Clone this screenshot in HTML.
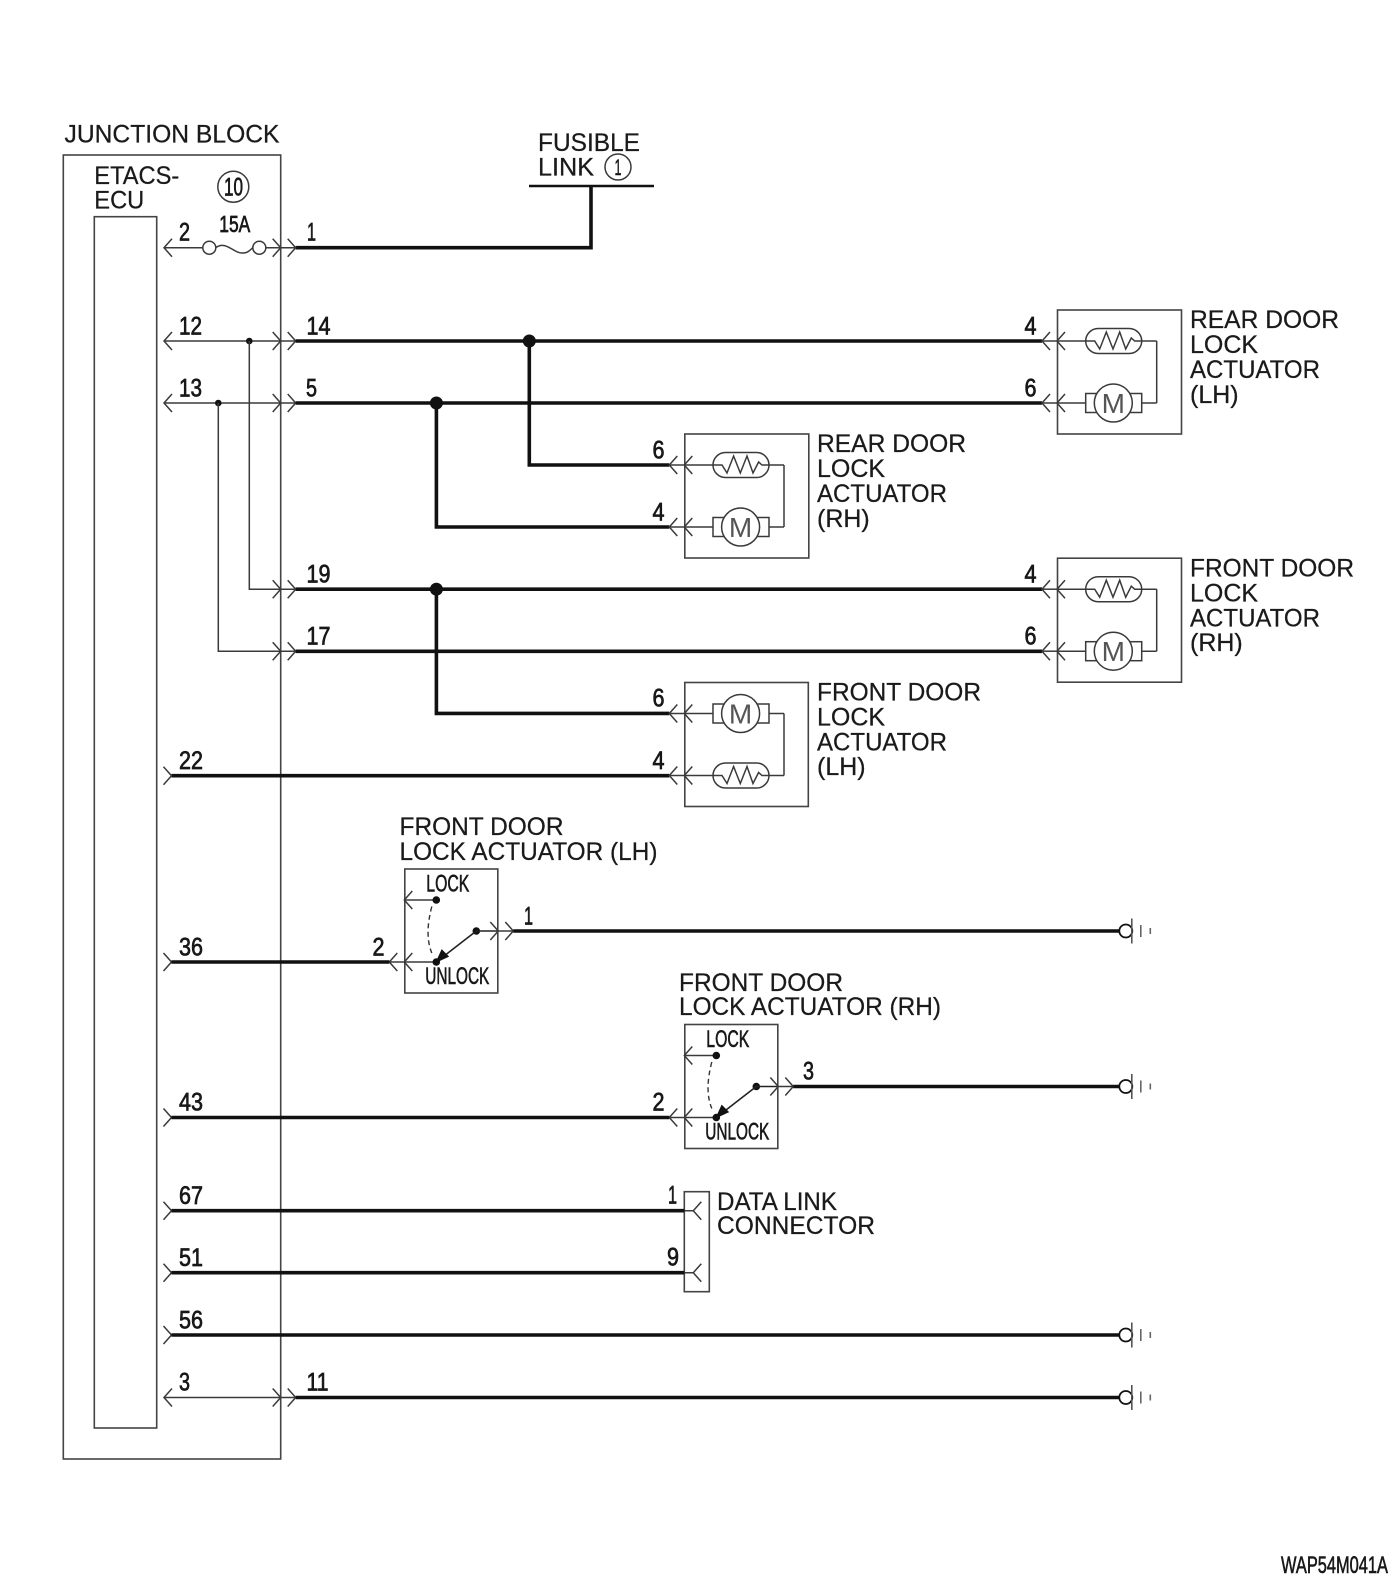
<!DOCTYPE html>
<html>
<head>
<meta charset="utf-8">
<style>
html,body{margin:0;padding:0;background:#fff;}
svg{display:block;}
text{font-family:"Liberation Sans",sans-serif;fill:#1a1a1a;}
.t{font-size:25px;stroke:#1a1a1a;stroke-width:.25;}
.n{font-size:25px;stroke:#111;stroke-width:.7;}
.s{font-size:24px;stroke:#111;stroke-width:.6;}
.th{stroke:#3a3a3a;stroke-width:1.5;fill:none;}
.b{stroke:#111;stroke-width:3.6;fill:none;}
.bx{stroke:#444;stroke-width:1.6;fill:none;}
</style>
</head>
<body>
<svg width="1400" height="1583" viewBox="0 0 1400 1583" xmlns="http://www.w3.org/2000/svg">
<defs>
<path id="cL" class="th" d="M8,-9L0,0L8,9"/>
<path id="cR" class="th" d="M-8,-9L0,0L-8,9"/>
<g id="in2">
  <use href="#cL" x="-15" y="0"/><use href="#cL" x="0" y="0"/>
  <path class="th" d="M-15,0H0"/>
</g>
<g id="res">
  <use href="#in2"/>
  <path class="th" d="M0,0H37.7L42.7,8L49.3,-9L56,8L62.7,-9L68.7,8L74.3,-3L77.7,0H99.7"/>
  <rect class="th" x="28.7" y="-12.5" width="56" height="25" rx="12.5"/>
</g>
<g id="mot">
  <use href="#in2"/>
  <path class="th" d="M0,0H28.7M84.7,0H99.7"/>
  <rect class="th" x="28.7" y="-9.5" width="56" height="19" style="fill:#fff"/>
  <circle class="th" cx="56.3" cy="0" r="19" style="fill:#fff"/>
  <text x="56.3" y="10" text-anchor="middle" font-size="28" style="fill:#555">M</text>
</g>
<g id="act1">
  <rect class="bx" x="0.5" y="0" width="124" height="124"/>
  <use href="#res" x="0" y="31"/><use href="#mot" x="0" y="93"/>
  <path class="th" d="M99.7,31V93"/>
</g>
<g id="act2">
  <rect class="bx" x="0.5" y="0" width="123.5" height="124"/>
  <use href="#mot" x="0" y="31"/><use href="#res" x="0" y="93"/>
  <path class="th" d="M99.7,31V93"/>
</g>
<g id="gnd">
  <circle class="b" style="stroke-width:1.8" cx="6.5" cy="0" r="6.5"/>
  <path stroke="#555" stroke-width="1.6" fill="none" d="M12.5,-12.5V12.5"/>
  <path stroke="#666" stroke-width="1.6" fill="none" d="M21.5,-6V6M31,-3V3"/>
</g>
<g id="sw">
  <rect class="bx" x="0.5" y="0" width="93" height="124"/>
  <use href="#cL" x="0" y="31"/>
  <use href="#in2" x="0" y="93"/>
  <path class="th" d="M0,31H32M0,93H32"/>
  <circle cx="32" cy="31" r="3.8" fill="#111"/>
  <circle cx="32" cy="93" r="3.8" fill="#111"/>
  <circle cx="72" cy="62" r="3.8" fill="#111"/>
  <path d="M27.5,37.5Q20,66 27.5,84" fill="none" stroke="#333" stroke-width="1.4" stroke-dasharray="5 3.5"/>
  <path class="th" style="stroke:#222;stroke-width:1.6" d="M72,62L32,93M72,62H94"/>
  <path d="M32,93L44,87.5L37.5,81Z" fill="#111" stroke="#111"/>
  <use href="#cR" x="94" y="62"/><use href="#cR" x="109" y="62"/>
  <path class="th" d="M94,62H109"/>
  <text class="s" x="22" y="22.7" textLength="43" lengthAdjust="spacingAndGlyphs">LOCK</text>
  <text class="s" x="21" y="115" textLength="64" lengthAdjust="spacingAndGlyphs">UNLOCK</text>
</g>
</defs>

<!-- Junction block and ECU -->
<rect class="bx" x="63.3" y="155" width="217.4" height="1304"/>
<rect class="bx" x="94.3" y="216.7" width="62.4" height="1211.3"/>
<text class="t" x="64.5" y="142.5" textLength="215" lengthAdjust="spacingAndGlyphs">JUNCTION BLOCK</text>
<text class="t" x="94.3" y="184" textLength="85" lengthAdjust="spacingAndGlyphs">ETACS-</text>
<text class="t" x="94.3" y="208.5" textLength="50" lengthAdjust="spacingAndGlyphs">ECU</text>
<circle class="th" cx="233.3" cy="186.7" r="15.5"/>
<text class="n" x="224" y="195.5" textLength="19" lengthAdjust="spacingAndGlyphs">10</text>
<text class="n" x="219.3" y="232" style="font-size:23px" textLength="31" lengthAdjust="spacingAndGlyphs">15A</text>

<!-- Fusible link -->
<text class="t" x="538" y="151" textLength="102" lengthAdjust="spacingAndGlyphs">FUSIBLE</text>
<text class="t" x="538" y="175.5" textLength="56" lengthAdjust="spacingAndGlyphs">LINK</text>
<circle class="th" cx="618" cy="167" r="13"/>
<text x="618" y="175" text-anchor="middle" font-size="22" stroke="#111" stroke-width=".5" textLength="7" lengthAdjust="spacingAndGlyphs">1</text>
<path class="b" style="stroke-width:2.6" d="M529,186H654"/>
<path class="b" d="M591,186V247.7H295.7"/>

<!-- Row 2/1 -->
<use href="#cL" x="164" y="247.7"/>
<path class="th" d="M164,247.7H203M265.8,247.7H295.7"/>
<circle class="th" cx="209.3" cy="247.7" r="6.5"/>
<circle class="th" cx="259.3" cy="247.7" r="6.5"/>
<path class="th" d="M215.8,247.7C226,240 234,254 243,253C248,253 250,250 252.8,247.7"/>
<use href="#cR" x="280.7" y="247.7"/><use href="#cR" x="295.7" y="247.7"/>

<!-- Rows 12/14, 13/5 -->
<use href="#cL" x="164" y="341"/><path class="th" d="M164,341H295.7"/>
<use href="#cR" x="280.7" y="341"/><use href="#cR" x="295.7" y="341"/>
<use href="#cL" x="164" y="403"/><path class="th" d="M164,403H295.7"/>
<use href="#cR" x="280.7" y="403"/><use href="#cR" x="295.7" y="403"/>
<circle cx="249.3" cy="341" r="3.3" fill="#111"/>
<circle cx="218.3" cy="403" r="3.3" fill="#111"/>
<path class="th" d="M249.3,341V589.2H295.7M218.3,403V651.3H295.7"/>
<use href="#cR" x="280.7" y="589.2"/><use href="#cR" x="295.7" y="589.2"/>
<use href="#cR" x="280.7" y="651.3"/><use href="#cR" x="295.7" y="651.3"/>

<!-- Thick wires -->
<path class="b" d="M295.7,341H1042M295.7,403H1042M295.7,589.2H1042M295.7,651.3H1042"/>
<path class="b" d="M529.3,341V465H669.3M436.4,403V527H669.3M436.4,589.2V713.4H669.3"/>
<path class="b" d="M171.5,775.7H669.3"/>
<circle cx="529.3" cy="341" r="6.5" fill="#111"/>
<circle cx="436.4" cy="403" r="6.5" fill="#111"/>
<circle cx="436.4" cy="589.2" r="6.5" fill="#111"/>
<use href="#cR" x="171.5" y="775.7"/>

<!-- Actuators -->
<use href="#act1" x="1057" y="310"/>
<use href="#act1" x="684.3" y="434"/>
<use href="#act1" x="1057" y="558.2"/>
<use href="#act2" x="684.3" y="682.5"/>

<text class="t" x="1190" y="328" textLength="149" lengthAdjust="spacingAndGlyphs">REAR DOOR</text>
<text class="t" x="1190" y="353">LOCK</text>
<text class="t" x="1190" y="378" textLength="130" lengthAdjust="spacingAndGlyphs">ACTUATOR</text>
<text class="t" x="1190" y="403">(LH)</text>

<text class="t" x="817" y="452" textLength="149" lengthAdjust="spacingAndGlyphs">REAR DOOR</text>
<text class="t" x="817" y="477">LOCK</text>
<text class="t" x="817" y="502" textLength="130" lengthAdjust="spacingAndGlyphs">ACTUATOR</text>
<text class="t" x="817" y="527">(RH)</text>

<text class="t" x="1190" y="576.5" textLength="164" lengthAdjust="spacingAndGlyphs">FRONT DOOR</text>
<text class="t" x="1190" y="601.5">LOCK</text>
<text class="t" x="1190" y="626.5" textLength="130" lengthAdjust="spacingAndGlyphs">ACTUATOR</text>
<text class="t" x="1190" y="651">(RH)</text>

<text class="t" x="817" y="700.5" textLength="164" lengthAdjust="spacingAndGlyphs">FRONT DOOR</text>
<text class="t" x="817" y="725.5">LOCK</text>
<text class="t" x="817" y="750.5" textLength="130" lengthAdjust="spacingAndGlyphs">ACTUATOR</text>
<text class="t" x="817" y="775">(LH)</text>

<!-- Switch LH -->
<text class="t" x="399.5" y="835" textLength="164" lengthAdjust="spacingAndGlyphs">FRONT DOOR</text>
<text class="t" x="399.5" y="860" textLength="258" lengthAdjust="spacingAndGlyphs">LOCK ACTUATOR (LH)</text>
<use href="#sw" x="404.3" y="869"/>
<use href="#cR" x="171.5" y="962"/>
<path class="b" d="M171.5,962H389.3M513.3,931H1119.3"/>
<use href="#gnd" x="1119.3" y="931"/>

<!-- Switch RH -->
<text class="t" x="679" y="991" textLength="164" lengthAdjust="spacingAndGlyphs">FRONT DOOR</text>
<text class="t" x="679" y="1015" textLength="262" lengthAdjust="spacingAndGlyphs">LOCK ACTUATOR (RH)</text>
<use href="#sw" x="684.3" y="1024.5"/>
<use href="#cR" x="171.5" y="1117.5"/>
<path class="b" d="M171.5,1117.5H669.3M793.3,1086.5H1119.3"/>
<use href="#gnd" x="1119.3" y="1086.5"/>

<!-- Data link -->
<rect class="bx" x="684.3" y="1191.7" width="25" height="100"/>
<use href="#cL" x="693.3" y="1210.7"/><use href="#cL" x="693.3" y="1272.7"/>
<path class="th" d="M684.3,1210.7H693.3M684.3,1272.7H693.3"/>
<use href="#cR" x="171.5" y="1210.7"/><use href="#cR" x="171.5" y="1272.7"/>
<path class="b" d="M171.5,1210.7H684.3M171.5,1272.7H684.3"/>
<text class="t" x="717" y="1210" textLength="120" lengthAdjust="spacingAndGlyphs">DATA LINK</text>
<text class="t" x="717" y="1234" textLength="158" lengthAdjust="spacingAndGlyphs">CONNECTOR</text>

<!-- Rows 56, 3/11 -->
<use href="#cR" x="171.5" y="1335"/>
<path class="b" d="M171.5,1335H1119.3"/>
<use href="#gnd" x="1119.3" y="1335"/>
<use href="#cL" x="164" y="1397.5"/>
<path class="th" d="M164,1397.5H295.7"/>
<use href="#cR" x="280.7" y="1397.5"/><use href="#cR" x="295.7" y="1397.5"/>
<path class="b" d="M295.7,1397.5H1119.3"/>
<use href="#gnd" x="1119.3" y="1397.5"/>

<!-- Pin numbers -->
<g transform="translate(0,-0.6)">
<text class="n" x="179" y="241" textLength="11" lengthAdjust="spacingAndGlyphs">2</text>
<text class="n" x="307" y="241" textLength="9" lengthAdjust="spacingAndGlyphs">1</text>
<text class="n" x="179" y="335" textLength="23" lengthAdjust="spacingAndGlyphs">12</text>
<text class="n" x="306.5" y="335" textLength="24" lengthAdjust="spacingAndGlyphs">14</text>
<text class="n" x="179" y="397" textLength="23" lengthAdjust="spacingAndGlyphs">13</text>
<text class="n" x="306" y="397" textLength="11" lengthAdjust="spacingAndGlyphs">5</text>
<text class="n" x="1024.5" y="335" textLength="12" lengthAdjust="spacingAndGlyphs">4</text>
<text class="n" x="1024.5" y="397" textLength="12" lengthAdjust="spacingAndGlyphs">6</text>
<text class="n" x="652.5" y="459" textLength="12" lengthAdjust="spacingAndGlyphs">6</text>
<text class="n" x="652.5" y="521" textLength="12" lengthAdjust="spacingAndGlyphs">4</text>
<text class="n" x="306.5" y="583" textLength="24" lengthAdjust="spacingAndGlyphs">19</text>
<text class="n" x="306.5" y="645" textLength="24" lengthAdjust="spacingAndGlyphs">17</text>
<text class="n" x="1024.5" y="583" textLength="12" lengthAdjust="spacingAndGlyphs">4</text>
<text class="n" x="1024.5" y="645" textLength="12" lengthAdjust="spacingAndGlyphs">6</text>
<text class="n" x="652.5" y="707" textLength="12" lengthAdjust="spacingAndGlyphs">6</text>
<text class="n" x="652.5" y="769.5" textLength="12" lengthAdjust="spacingAndGlyphs">4</text>
<text class="n" x="179" y="769.5" textLength="24" lengthAdjust="spacingAndGlyphs">22</text>
<text class="n" x="179" y="956" textLength="24" lengthAdjust="spacingAndGlyphs">36</text>
<text class="n" x="372.5" y="956" textLength="12" lengthAdjust="spacingAndGlyphs">2</text>
<text class="n" x="524" y="925" textLength="9" lengthAdjust="spacingAndGlyphs">1</text>
<text class="n" x="179" y="1111" textLength="24" lengthAdjust="spacingAndGlyphs">43</text>
<text class="n" x="652.5" y="1111" textLength="12" lengthAdjust="spacingAndGlyphs">2</text>
<text class="n" x="803" y="1080" textLength="11" lengthAdjust="spacingAndGlyphs">3</text>
<text class="n" x="179" y="1204.5" textLength="24" lengthAdjust="spacingAndGlyphs">67</text>
<text class="n" x="668" y="1204" textLength="9" lengthAdjust="spacingAndGlyphs">1</text>
<text class="n" x="179" y="1266.5" textLength="24" lengthAdjust="spacingAndGlyphs">51</text>
<text class="n" x="667" y="1266" textLength="12" lengthAdjust="spacingAndGlyphs">9</text>
<text class="n" x="179" y="1329" textLength="24" lengthAdjust="spacingAndGlyphs">56</text>
<text class="n" x="179" y="1391" textLength="11" lengthAdjust="spacingAndGlyphs">3</text>
<text class="n" x="306.5" y="1391" textLength="22" lengthAdjust="spacingAndGlyphs">11</text>
</g>

<text x="1281" y="1573" font-size="24" stroke="#111" stroke-width=".6" textLength="107" lengthAdjust="spacingAndGlyphs">WAP54M041A</text>
</svg>
</body>
</html>
